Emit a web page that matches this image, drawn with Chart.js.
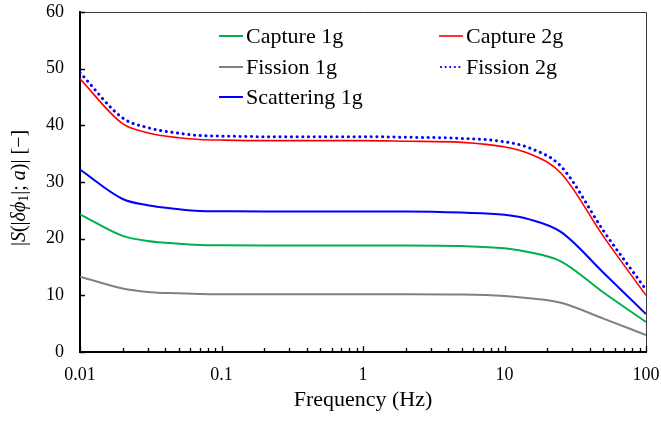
<!DOCTYPE html>
<html><head><meta charset="utf-8">
<script src="https://cdn.jsdelivr.net/npm/chart.js@4/dist/chart.umd.min.js"></script>
<style>html,body{margin:0;padding:0;background:#fff}#wrap{width:661px;height:421px}</style>
</head><body><div id="wrap"><canvas id="c" width="661" height="421"></canvas></div>
<script>
// ---- data ----
const frequencies = [0.01, 0.02, 0.03, 0.05, 0.07, 0.1, 0.2, 0.5, 1, 2, 5, 10, 15, 25, 50, 100];
const capture1g    = [24.3, 20.5, 19.6, 19.1, 18.9, 18.85, 18.8, 18.8, 18.8, 18.8, 18.7, 18.3, 17.6, 16.0, 10.5, 5.3];
const capture2g    = [48.2, 40.3, 38.7, 37.8, 37.5, 37.4, 37.3, 37.3, 37.3, 37.2, 37.0, 36.2, 35.0, 31.6, 20.4, 10.0];
const fission1g    = [13.3, 11.2, 10.6, 10.35, 10.25, 10.2, 10.2, 10.2, 10.2, 10.2, 10.15, 9.9, 9.5, 8.7, 5.9, 3.0];
const fission2g    = [49.3, 41.3, 39.6, 38.6, 38.2, 38.1, 38.0, 38.0, 38.0, 37.9, 37.7, 37.1, 36.0, 32.8, 21.4, 11.0];
const scattering1g = [32.2, 27.0, 25.9, 25.2, 24.9, 24.85, 24.8, 24.8, 24.8, 24.8, 24.6, 24.2, 23.4, 21.2, 14.0, 6.7];
const seriesLabels = ['Capture 1g', 'Capture 2g', 'Fission 1g', 'Fission 2g', 'Scattering 1g'];
const xTickValues = [0.01, 0.1, 1, 10, 100];
const yTickValues = [0, 10, 20, 30, 40, 50, 60];
const xTitle = 'Frequency (Hz)';

const pts = arr => arr.map((v, i) => ({x: frequencies[i], y: v}));
const SERIF = '"Liberation Serif", "Times New Roman", serif';

const legendPlugin = {
  id: 'gridLegend',
  afterDraw(chart) {
    const ctx = chart.ctx;
    const cols = [219, 439], rows = [36, 67, 97];
    ctx.save();
    ctx.font = '22px ' + SERIF;
    ctx.textBaseline = 'middle';
    ctx.textAlign = 'left';
    chart.data.datasets.forEach((ds, i) => {
      const x = cols[i % 2], y = rows[Math.floor(i / 2)];
      ctx.beginPath();
      ctx.strokeStyle = ds.borderColor;
      ctx.lineWidth = ds.borderDash ? 2.2 : ds.borderWidth;
      ctx.lineCap = ds.borderDash ? 'round' : 'butt';
      ctx.setLineDash(ds.borderDash ? [0.1, 4.5] : []);
      ctx.moveTo(x + (ds.borderDash ? 2 : 0), y);
      ctx.lineTo(x + 24, y);
      ctx.stroke();
      ctx.setLineDash([]);
      ctx.fillStyle = '#000';
      ctx.fillText(ds.label, x + 27, y + 1);
    });
    ctx.restore();
  }
};

const framePlugin = {
  id: 'frame',
  afterDraw(chart) {
    const ctx = chart.ctx, a = chart.chartArea;
    const xs = chart.scales.x, ys = chart.scales.y;
    ctx.save();
    ctx.strokeStyle = '#3a3a3a';
    ctx.lineWidth = 1;
    ctx.beginPath();
    ctx.moveTo(a.left, a.top + 0.5); ctx.lineTo(a.right + 0.5, a.top + 0.5);
    ctx.lineTo(a.right + 0.5, a.bottom);
    ctx.stroke();
    ctx.strokeStyle = '#000';
    ctx.lineWidth = 1.3;
    ctx.beginPath();
    for (let d = 0; d < xTickValues.length - 1; d++) {
      for (let m = 1; m <= 10; m++) {
        const v = xTickValues[d] * m;
        const px = Math.round(xs.getPixelForValue(v)) + 0.5;
        const len = (m === 1 || m === 10) ? 6 : 4;
        ctx.moveTo(px, a.bottom); ctx.lineTo(px, a.bottom - len);
      }
    }
    yTickValues.forEach(v => {
      const py = Math.round(ys.getPixelForValue(v)) + 0.5;
      ctx.moveTo(a.left, py); ctx.lineTo(a.left + 5, py);
    });
    ctx.stroke();
    ctx.fillStyle = '#000';
    ctx.font = '22px ' + SERIF;
    ctx.textAlign = 'center';
    ctx.textBaseline = 'middle';
    ctx.fillText(xTitle, (a.left + a.right) / 2, 400);
    const segs = [
      ['|', '', 20, 0], ['S', 'italic ', 20, 0], ['(|', '', 20, 0], ['δϕ', 'italic ', 20, 0],
      ['1', '', 14, 4], ['|; ', '', 20, 0], ['a', 'italic ', 20, 0], [')| [−]', '', 20, 0]
    ];
    let total = 0;
    segs.forEach(s => { ctx.font = s[1] + s[2] + 'px ' + SERIF; total += ctx.measureText(s[0]).width; });
    ctx.translate(20, 188);
    ctx.rotate(-Math.PI / 2);
    ctx.textAlign = 'left';
    let cx = -total / 2;
    segs.forEach(s => {
      ctx.font = s[1] + s[2] + 'px ' + SERIF;
      ctx.fillText(s[0], cx, s[3]);
      cx += ctx.measureText(s[0]).width;
    });
    ctx.restore();
  }
};

new Chart(document.getElementById('c'), {
  type: 'line',
  data: {
    datasets: [
      {label: seriesLabels[0], data: pts(capture1g), borderColor: '#00B050', borderWidth: 2},
      {label: seriesLabels[1], data: pts(capture2g), borderColor: '#FF0000', borderWidth: 1.6},
      {label: seriesLabels[2], data: pts(fission1g), borderColor: '#808080', borderWidth: 2},
      {label: seriesLabels[3], data: pts(fission2g), borderColor: '#0000FF', borderWidth: 3, borderDash: [0.1, 5.6], borderCapStyle: 'round'},
      {label: seriesLabels[4], data: pts(scattering1g), borderColor: '#0000FF', borderWidth: 2}
    ]
  },
  options: {
    responsive: false,
    animation: false,
    devicePixelRatio: 1,
    layout: {padding: {left: 0, right: 15, top: 12, bottom: 0}},
    elements: {point: {radius: 0}, line: {cubicInterpolationMode: 'monotone', fill: false}},
    plugins: {legend: {display: false}, tooltip: {enabled: false}},
    scales: {
      x: {
        type: 'logarithmic', min: 0.01, max: 100,
        afterFit: s => { s.height = 69; s.paddingLeft = 0; s.paddingRight = 0; },
        afterBuildTicks: s => { s.ticks = xTickValues.map(v => ({value: v})); },
        grid: {display: false, drawTicks: false},
        border: {display: true, color: '#000', width: 2},
        ticks: {
          autoSkip: false, maxRotation: 0, padding: 12, color: '#000',
          font: {family: SERIF, size: 18},
          callback: v => String(v)
        }
      },
      y: {
        min: 0, max: 60,
        afterFit: s => { s.width = 80; s.paddingTop = 0; s.paddingBottom = 0; },
        afterBuildTicks: s => { s.ticks = yTickValues.map(v => ({value: v})); },
        grid: {display: false, drawTicks: false},
        border: {display: true, color: '#000', width: 2},
        ticks: {padding: 16, color: '#000', font: {family: SERIF, size: 18}}
      }
    }
  },
  plugins: [legendPlugin, framePlugin]
});
</script></body></html>
